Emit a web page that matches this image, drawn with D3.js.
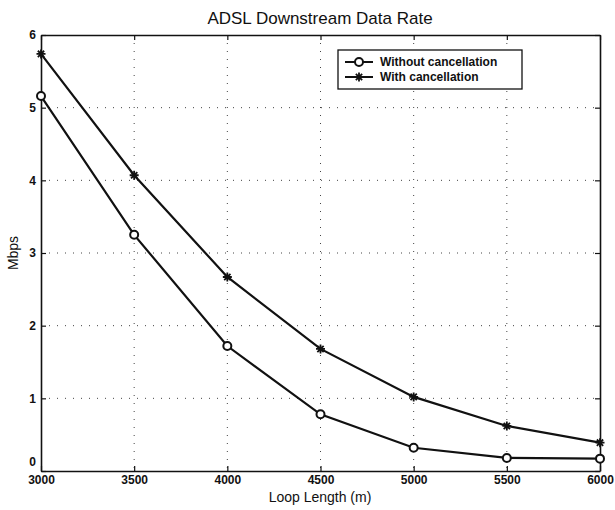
<!DOCTYPE html>
<html><head><meta charset="utf-8">
<script src="https://cdn.jsdelivr.net/npm/d3@7"></script>
<style>
body{margin:0;background:#fff;}
text{font-family:"Liberation Sans",Arial,sans-serif;fill:#111;}
</style></head>
<body><svg id="c" width="615" height="510"></svg>
<script>
const loopLengths = [3000, 3500, 4000, 4500, 5000, 5500, 6000];
const withoutCancellation = [5.16, 3.25, 1.72, 0.78, 0.32, 0.18, 0.17];
const withCancellation = [5.74, 4.07, 2.67, 1.68, 1.02, 0.62, 0.39];
const xTicks = [3000, 3500, 4000, 4500, 5000, 5500, 6000];
const yTicks = [0, 1, 2, 3, 4, 5, 6];
const seriesNames = ["Without cancellation", "With cancellation"];

(function () {
const svg = d3.select("#c");
const L = 41, R = 600, T = 35, B = 471;
const x = d3.scaleLinear().domain([3000, 6000]).range([L, R]);
const y = d3.scaleLinear().domain([0, 6]).range([B, T]);

// grid
const g = svg.append("g");
g.selectAll(".vg").data(xTicks.slice(1, -1)).join("line")
  .attr("x1", d => x(d)).attr("x2", d => x(d)).attr("y1", T).attr("y2", B)
  .attr("stroke", "#444").attr("stroke-width", 1).attr("stroke-dasharray", "1,7");
g.selectAll(".hg").data(yTicks.slice(1, -1)).join("line")
  .attr("y1", d => y(d)).attr("y2", d => y(d)).attr("x1", L).attr("x2", R)
  .attr("stroke", "#444").attr("stroke-width", 1).attr("stroke-dasharray", "1,7");

// axes (MATLAB-style inward ticks on all sides)
const ax = svg.append("g");
const axB = ax.append("g").attr("transform", `translate(0,${B})`)
  .call(d3.axisBottom(x).tickValues(xTicks).tickSizeInner(-5).tickSizeOuter(0).tickPadding(4).tickFormat(d3.format("d")));
ax.append("g").attr("transform", `translate(0,${T})`)
  .call(d3.axisTop(x).tickValues(xTicks).tickSizeInner(-5).tickSizeOuter(0).tickFormat(""));
const axL = ax.append("g").attr("transform", `translate(${L},0)`)
  .call(d3.axisLeft(y).tickValues(yTicks).tickSizeInner(-5).tickSizeOuter(0).tickPadding(9).tickFormat(d3.format("d")));
ax.append("g").attr("transform", `translate(${R},0)`)
  .call(d3.axisRight(y).tickValues(yTicks).tickSizeInner(-5).tickSizeOuter(0).tickFormat(""));
ax.selectAll(".domain").attr("stroke", "#111").attr("stroke-width", 1.6);
ax.selectAll(".tick line").attr("stroke", "#111").attr("stroke-width", 1.2);
ax.selectAll(".tick text").attr("font-size", 12).attr("font-weight", "bold").attr("fill", "#111")
  .attr("font-family", "'Liberation Sans Narrow','Liberation Sans',Arial,sans-serif");
axL.selectAll(".tick text").attr("dx", "4");
axL.selectAll(".tick").filter(d => d === 0).select("text").attr("dy", "-0.45em");

// lines
const line = d3.line().x((d, i) => x(loopLengths[i])).y(d => y(d));
[withoutCancellation, withCancellation].forEach(s => {
  svg.append("path").datum(s).attr("d", line).attr("fill", "none")
    .attr("stroke", "#111").attr("stroke-width", 2.2);
});

function circleMarker(sel, cx, cy) {
  sel.append("circle").attr("cx", cx).attr("cy", cy).attr("r", 4)
    .attr("fill", "#fff").attr("stroke", "#111").attr("stroke-width", 2);
}
function starMarker(sel, cx, cy) {
  const r = 4.5;
  const p = `M${cx - r},${cy}L${cx + r},${cy}M${cx},${cy - r}L${cx},${cy + r}` +
    `M${cx - r * 0.7},${cy - r * 0.7}L${cx + r * 0.7},${cy + r * 0.7}M${cx - r * 0.7},${cy + r * 0.7}L${cx + r * 0.7},${cy - r * 0.7}`;
  sel.append("path").attr("d", p).attr("stroke", "#111").attr("stroke-width", 1.8).attr("fill", "none");
}
const mk = svg.append("g");
withoutCancellation.forEach((v, i) => circleMarker(mk, x(loopLengths[i]), y(v)));
withCancellation.forEach((v, i) => starMarker(mk, x(loopLengths[i]), y(v)));

// legend
const lg = svg.append("g");
lg.append("rect").attr("x", 338).attr("y", 50).attr("width", 184).attr("height", 39)
  .attr("fill", "#fff").attr("stroke", "#111").attr("stroke-width", 1.3);
seriesNames.forEach((n, i) => {
  const yy = 62 + i * 15;
  lg.append("line").attr("x1", 345).attr("x2", 373).attr("y1", yy).attr("y2", yy)
    .attr("stroke", "#111").attr("stroke-width", 2);
  if (i === 0) circleMarker(lg, 359, yy); else starMarker(lg, 359, yy);
  lg.append("text").attr("x", 380).attr("y", yy + 4).attr("font-size", 12).attr("font-weight", "bold").text(n);
});

// titles
svg.append("text").attr("x", 320).attr("y", 24).attr("text-anchor", "middle")
  .attr("font-size", 17).text("ADSL Downstream Data Rate");
svg.append("text").attr("x", 320).attr("y", 502).attr("text-anchor", "middle")
  .attr("font-size", 14).text("Loop Length (m)");
svg.append("text").attr("transform", "translate(18,253) rotate(-90)").attr("text-anchor", "middle")
  .attr("font-size", 14).text("Mbps");
})();
</script></body></html>
